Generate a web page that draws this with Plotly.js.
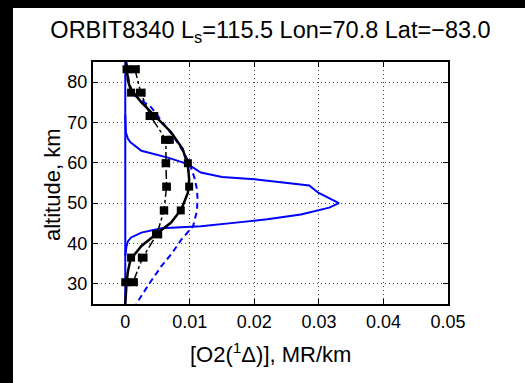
<!DOCTYPE html>
<html>
<head>
<meta charset="utf-8">
<script src="https://cdn.plot.ly/plotly-3.0.1.min.js"></script>
<style>
  html, body { margin: 0; padding: 0; background: #fff; width: 525px; height: 383px; overflow: hidden; }
  #chart { position: absolute; left: 0; top: 0; width: 525px; height: 383px; }
  .strip { position: absolute; background: #000; z-index: 10; }
</style>
</head>
<body>
<div id="chart"></div>
<div class="strip" style="left:0;top:0;width:525px;height:8px;"></div>
<div class="strip" style="left:0;top:0;width:13px;height:383px;"></div>
<script>
// Measurement altitudes (km)
const measAlt = [83.2, 77.4, 71.6, 65.7, 59.9, 54.1, 48.2, 42.3, 36.5, 30.4];
// Measured volume emission (MR/km), dash-dot with error bars
const measVal = [0.0015, 0.0024, 0.0039, 0.0063, 0.0063, 0.0064, 0.0060, 0.0049, 0.0027, 0.0012];
const measErr = [0.0006, 0.0006, 0.0006, 0.0006, 0.0005, 0.0005, 0.0005, 0.0006, 0.0006, 0.0006];
// Fitted values at measurement altitudes (markers on solid black line)
const fitMarkVal = [0.0002, 0.0009, 0.0045, 0.0069, 0.0097, 0.0099, 0.0086, 0.0051, 0.0009, 0.0000];

// Smooth fitted profile (solid black)
const fitAlt = [85, 84.5, 80.5, 78.3, 75.0, 71.7, 67.6, 63.4, 59.3, 55.9, 52.6, 48.5, 45.2, 42.7, 39.4, 36.0, 33.0, 30.2, 25];
const fitVal = [0.0001, 0.0002, 0.0004, 0.0008, 0.0025, 0.0045, 0.0071, 0.0089, 0.0097, 0.0099, 0.0097, 0.0087, 0.0071, 0.0051, 0.0025, 0.0008, 0.0004, 0.0002, 0.0000];

// Model profile (blue dashed)
const modDashAlt = [84.0, 80.0, 77.0, 73.8, 70.0, 66.7, 63.0, 60.0, 56.4, 53.5, 51.0, 48.0, 44.3, 41.0, 37.5, 34.4, 30.0, 25.0];
const modDashVal = [0.0002, 0.0006, 0.0012, 0.0040, 0.0058, 0.0074, 0.0089, 0.0099, 0.0107, 0.0111, 0.0112, 0.0111, 0.0105, 0.0087, 0.0072, 0.0056, 0.0037, 0.0017];

// Model profile (blue solid, peaked)
const modPeakAlt = [72.0, 69.0, 67.5, 66.0, 65.1, 63.0, 61.3, 59.7, 57.6, 56.5, 55.9, 54.4, 53.5, 52.6, 50.0, 48.9, 47.2, 46.0, 45.3, 44.3, 43.8, 42.7, 41.5, 40.5, 39.4, 37.0];
const modPeakVal = [0.0000, 0.0000, 0.0001, 0.0004, 0.0008, 0.0025, 0.0066, 0.0097, 0.0117, 0.0150, 0.0200, 0.0285, 0.0292, 0.0299, 0.0331, 0.0316, 0.0272, 0.0220, 0.0179, 0.0117, 0.0056, 0.0025, 0.0009, 0.0004, 0.0002, 0.0000];

// Blue solid zero line
const zeroAlt = [25, 85];
const zeroVal = [0, 0];

const xTicks = [0, 0.01, 0.02, 0.03, 0.04, 0.05];
const xTickText = ['0', '0.01', '0.02', '0.03', '0.04', '0.05'];
const yTicks = [30, 40, 50, 60, 70, 80];

const BLUE = '#0000ff';
const FONT = '"Liberation Sans", Arial, Helvetica, sans-serif';

const traces = [
  { x: zeroVal, y: zeroAlt, mode: 'lines', line: { color: BLUE, width: 2 }, hoverinfo: 'skip' },
  { x: modPeakVal, y: modPeakAlt, mode: 'lines', line: { color: BLUE, width: 2 } },
  { x: modDashVal, y: modDashAlt, mode: 'lines', line: { color: BLUE, width: 2, dash: '6px,4px' } },
  { x: measVal, y: measAlt, mode: 'lines+markers',
    line: { color: '#000', width: 1.5, dash: 'dashdot' },
    marker: { symbol: 'square', size: 8, color: '#000' },
    error_x: { type: 'data', array: measErr, visible: true, color: '#000', thickness: 2, width: 4 } },
  { x: fitVal, y: fitAlt, mode: 'lines', line: { color: '#000', width: 2.5 } },
  { x: fitMarkVal, y: measAlt, mode: 'markers',
    marker: { symbol: 'square', size: 8, color: '#000' } }
];

const axisCommon = {
  showline: true, linecolor: '#000', linewidth: 2, mirror: 'ticks',
  ticks: 'inside', ticklen: 5, tickwidth: 1, tickcolor: '#000',
  showgrid: true, gridcolor: '#444', gridwidth: 1, griddash: '1px,3px',
  zeroline: false, automargin: false,
  tickfont: { family: FONT, size: 18, color: '#000' }
};

const layout = {
  width: 525, height: 383,
  margin: { l: 93, r: 77, t: 62, b: 79 },
  paper_bgcolor: '#fff', plot_bgcolor: '#fff',
  showlegend: false,
  font: { family: FONT, color: '#000' },
  title: {
    text: 'ORBIT8340 L<sub>s</sub>=115.5 Lon=70.8 Lat=\u221283.0',
    font: { family: FONT, size: 23.5, color: '#000' },
    x: 0.5, xref: 'paper', xanchor: 'center',
    y: 1 - 30 / 383, yref: 'container', yanchor: 'middle'
  },
  xaxis: Object.assign({}, axisCommon, {
    range: [-0.005, 0.05], tickvals: xTicks, ticktext: xTickText
  }),
  yaxis: Object.assign({}, axisCommon, {
    range: [25, 85], tickvals: yTicks
  }),
  annotations: [
    { text: '[O2(<sup>1</sup>\u0394)], MR/km', xref: 'paper', yref: 'paper',
      x: 0.5, y: -(353 - 304) / 242, xanchor: 'center', yanchor: 'middle',
      showarrow: false, font: { family: FONT, size: 22, color: '#000' } },
    { text: 'altitude, km', xref: 'paper', yref: 'paper',
      x: (52 - 93) / 355, y: (304 - 185) / 242, xanchor: 'center', yanchor: 'middle',
      textangle: -90, showarrow: false, font: { family: FONT, size: 22, color: '#000' } }
  ]
};

Plotly.newPlot('chart', traces, layout, { staticPlot: true, displayModeBar: false });
</script>
</body>
</html>
